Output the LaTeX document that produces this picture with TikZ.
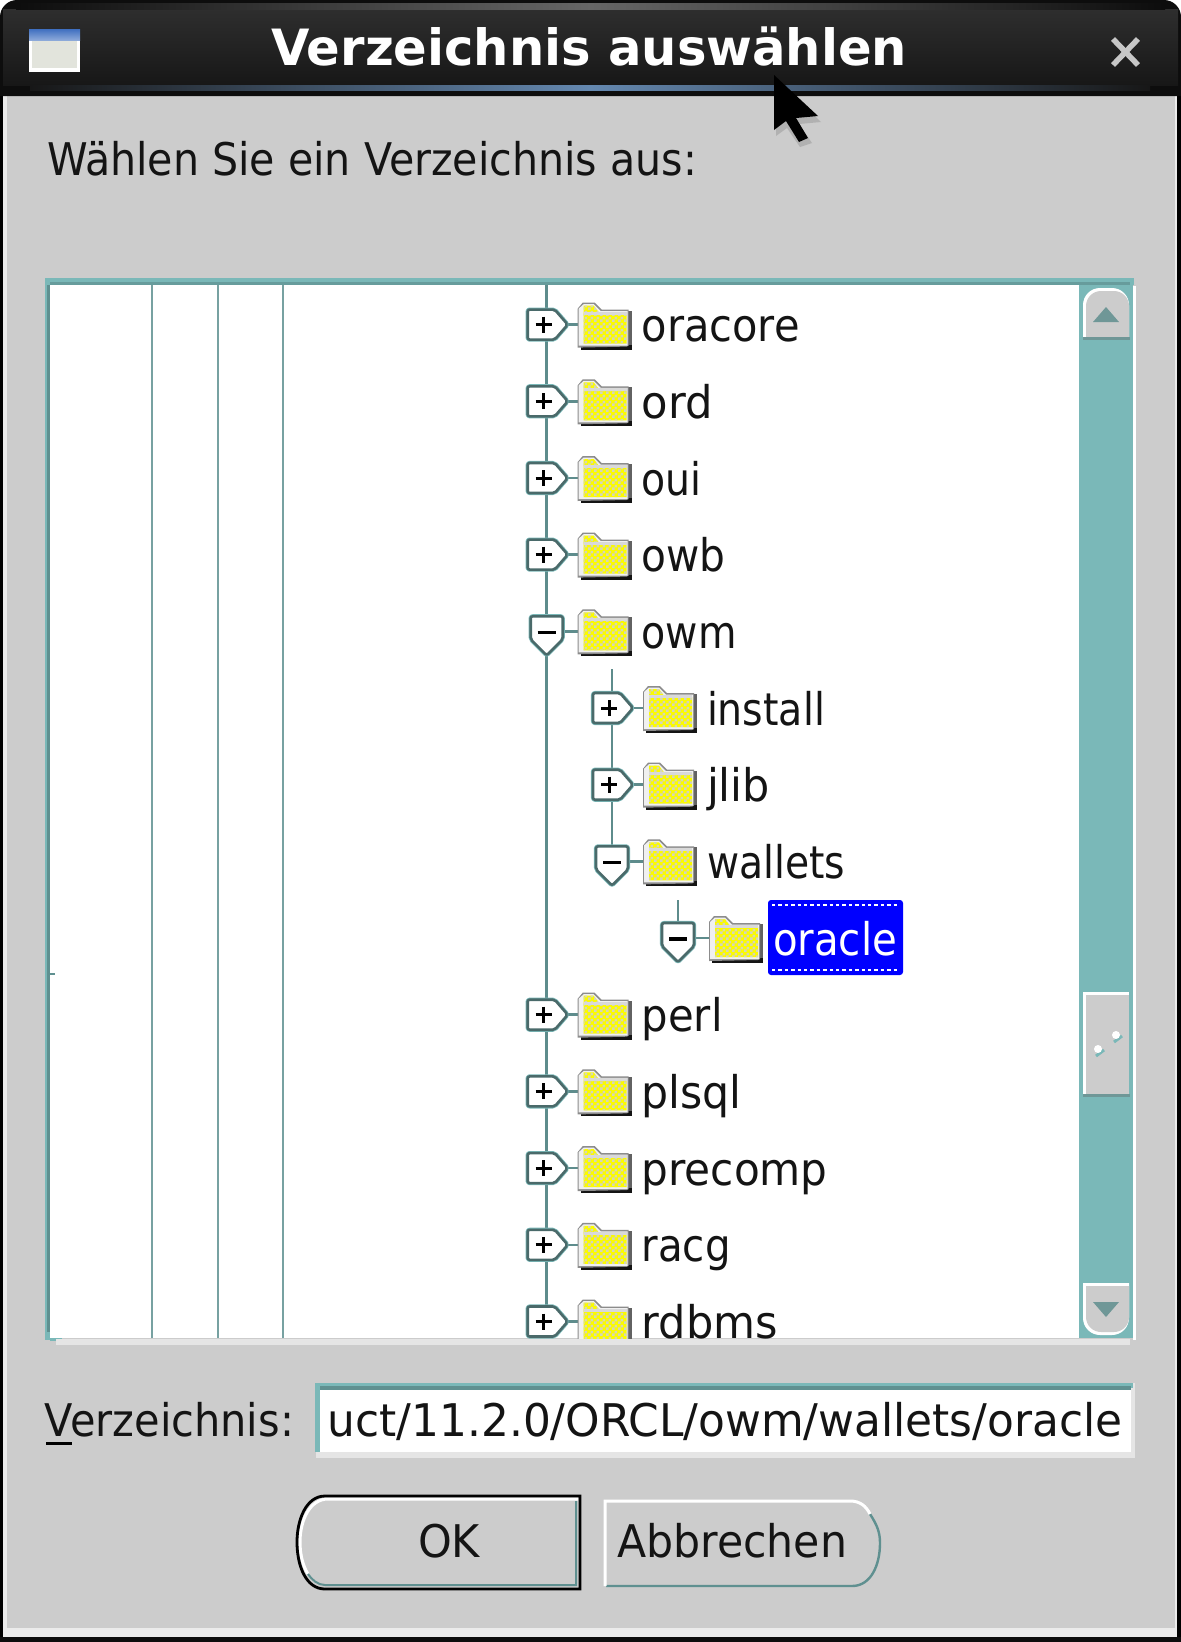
\documentclass[tikz,border=0pt]{standalone}
\usepackage{fontspec}
\usepackage{graphicx}
\setmainfont{DejaVu Sans}
\usetikzlibrary{patterns,calc}
\definecolor{winbg}{HTML}{CCCCCC}
\definecolor{teal1}{HTML}{7AB8B8}
\definecolor{teal2}{HTML}{5F9090}
\definecolor{treeln}{HTML}{5E8C8C}
\definecolor{handleln}{HTML}{4A6A6A}
\definecolor{arrowc}{HTML}{6F9797}
\definecolor{titletop}{HTML}{2E2E2E}
\definecolor{titlebot}{HTML}{171717}
\definecolor{glow}{HTML}{6488B0}
\definecolor{iconblue}{HTML}{3F6FC0}
\definecolor{iconbody}{HTML}{E2E4DC}
\definecolor{foldergray}{HTML}{8C8C8C}
\definecolor{folderyel}{HTML}{FBFB00}
\definecolor{folderdot}{HTML}{D6D6B8}
\pgfdeclarepatternformonly{dither}{\pgfpointorigin}{\pgfqpoint{6pt}{6pt}}{\pgfqpoint{6pt}{6pt}}{%
  \pgfpathrectangle{\pgfqpoint{0pt}{0pt}}{\pgfqpoint{2.9pt}{2.9pt}}%
  \pgfpathrectangle{\pgfqpoint{3pt}{3pt}}{\pgfqpoint{2.9pt}{2.9pt}}%
  \pgfusepath{fill}}
\newcommand\fit[2]{\resizebox{#1pt}{\height}{#2}}
\tikzset{
  uilabel/.style={anchor=base west,inner sep=0pt,outer sep=0pt,text=black!92,font=\fontsize{45}{50}\selectfont},
  treelabel/.style={uilabel},
  sellabel/.style={uilabel,text=white},
  titlelabel/.style={anchor=base west,inner sep=0pt,text=white,font=\fontsize{50}{56}\selectfont\bfseries},
  treeline/.style={draw=treeln,line width=2.6pt},
  gridline/.style={draw=teal2!85,line width=1.8pt},
  handlebox/.style={draw=handleln,fill=white,line width=2.6pt,line join=round,rounded corners=2pt},
  handlehalo/.style={draw=teal1,line width=4.2pt,line join=round,rounded corners=2pt},
  glyphmark/.style={draw=black,line width=3pt},
}
\newcommand\handleplus{%
  \draw[handlehalo] (-19,-15) -- (8,-15) -- (21,0) -- (8,15) -- (-19,15) -- cycle;
  \draw[handlebox] (-19,-15) -- (8,-15) -- (21,0) -- (8,15) -- (-19,15) -- cycle;
  \draw[glyphmark] (-11,0) -- (5,0) (-3,-8) -- (-3,8);}
\newcommand\handleminus{%
  \draw[handlehalo] (-16,-15) -- (16,-15) -- (16,8) -- (0,24) -- (-16,8) -- cycle;
  \draw[handlebox] (-16,-15) -- (16,-15) -- (16,8) -- (0,24) -- (-16,8) -- cycle;
  \draw[glyphmark,line width=3.2pt] (-9,1) -- (9,1);}
\newcommand\folder{%
  \fill[black!92] (3,2) rectangle (54,25);
  \fill[foldergray!70!black] (50,-14) rectangle (54,20);
  \fill[foldergray] (0,23) -- (0,-16) -- (5,-22) -- (17,-22) -- (24,-15) -- (51,-15) -- (51,21) -- (49,22) -- cycle;
  \fill[white!94!black] (1,21) -- (1,-16) -- (6,-20.5) -- (16,-20.5) -- (23,-13.5) -- (50,-13.5) -- (50,21) -- cycle;
  \fill[folderyel] (6,-19) -- (16,-19) -- (22,-11) -- (49,-11) -- (49,19) -- (6,19) -- cycle;
  \fill[pattern=dither,pattern color=folderdot] (6,-19) -- (16,-19) -- (22,-11) -- (49,-11) -- (49,19) -- (6,19) -- cycle;
  \fill[white!85!black] (6,-13) rectangle (49,-10);}
% [label style] id cx cy handle
\newcommand\trow[5][treelabel]{%
  \coordinate (h#2) at (#3,#4);
  \path (h#2) ++(31,0) coordinate (f#2);
  \draw[treeline] (h#2) -- (f#2);
  \begin{scope}[shift={(h#2)}]#5\end{scope}
  \begin{scope}[shift={(f#2)}]\folder\end{scope}
  \node[#1] (t#2) at ([shift={(95,17)}]h#2) {\fit{\rowwidth}{#2}};}
\begin{document}
\begin{tikzpicture}[x=1pt,y=-1pt]
\useasboundingbox (0,0) rectangle (1181,1642);
% window frame
\fill[white] (0,0) rectangle (1181,1642);
\fill[black] (0,90) rectangle (3,1642);
\fill[black] (1177,90) rectangle (1181,1642);
\fill[white!92!black] (3,90) rectangle (1177,1637);
\fill[black!95] (0,1637) rectangle (1181,1642);
\fill[winbg] (7,94) rectangle (1175,1628);
% title bar
\fill[black!95,rounded corners=17pt] (0,96) -- (0,0) -- (1181,0) -- (1181,96);
\shade[top color=titletop,bottom color=titlebot] (3,9) rectangle (1178,85);
\shade[left color=black!95,right color=black!95,middle color=black!60] (16,3) rectangle (1165,9);
\shade[left color=titlebot,right color=titlebot,middle color=glow] (30,85) rectangle (1150,90);
\node[titlelabel] (title) at (271,65) {\fit{636}{Verzeichnis auswählen}};
\fill[white] (29,30) rectangle (80,72);
\fill[iconbody] (32,40) rectangle (77,68);
\shade[top color=iconblue,bottom color=iconblue!60!white] (29,29) rectangle (80,40);
\draw[white!78!black,line width=5.5pt] (1113,39) -- (1138,65) (1138,39) -- (1113,65);
% prompt
\node[uilabel] (prompt) at (47,175) {\fit{650}{Wählen Sie ein Verzeichnis aus:}};
% tree pane
\fill[teal1] (46,278) rectangle (1134,285);
\fill[teal2!70!teal1] (46,282) rectangle (1130,285);
\fill[teal1] (45,278) rectangle (50,1340);
\fill[teal2] (47,285) rectangle (50,1332);
\fill[teal1] (50,1336) rectangle (62,1341);
\fill[white!90!black] (56,1339) rectangle (1130,1345);
\fill[white] (1133,286) rectangle (1136,1340);
\fill[white] (50,285) rectangle (1079,1338);
\fill[teal2] (50,973) rectangle (55,975);
\begin{scope}
\clip (50,285) rectangle (1079,1338);
\draw[gridline] (152,285) -- (152,1338);
\draw[gridline] (217.6,285) -- (217.6,1338);
\draw[gridline] (283,285) -- (283,1338);
\coordinate (mainTop) at (546.7,285);
\coordinate (mainEnd) at (546.7,1338);
\draw[treeline] (mainTop) -- (mainEnd);
\coordinate (subTop) at (612,669);
\coordinate (subEnd) at (612,846);
\draw[treeline] (subTop) -- (subEnd);
\coordinate (leafTop) at (678,900);
\coordinate (leafEnd) at (678,924);
\draw[treeline] (leafTop) -- (leafEnd);
\def\rowwidth{158}\trow{oracore}{546.7}{324.6}{\handleplus}
\def\rowwidth{71}\trow{ord}{546.7}{401.3}{\handleplus}
\def\rowwidth{60}\trow{oui}{546.7}{478}{\handleplus}
\def\rowwidth{84}\trow{owb}{546.7}{554.6}{\handleplus}
\def\rowwidth{95}\trow{owm}{546.7}{631.3}{\handleminus}
\def\rowwidth{118}\trow{install}{612}{708}{\handleplus}
\def\rowwidth{63}\trow{jlib}{612}{784.7}{\handleplus}
\def\rowwidth{138}\trow{wallets}{612}{861.4}{\handleminus}
\fill[blue,rounded corners=3pt] (768,900) rectangle (903,975);
\draw[white,line width=2.6pt,dash pattern=on 3.4pt off 3pt] (772,905) -- (899,905) (772,970) -- (899,970);
\def\rowwidth{124}\trow[sellabel]{oracle}{678}{938}{\handleminus}
\def\rowwidth{81}\trow{perl}{546.7}{1014.7}{\handleplus}
\def\rowwidth{100}\trow{plsql}{546.7}{1091.4}{\handleplus}
\def\rowwidth{186}\trow{precomp}{546.7}{1168.1}{\handleplus}
\def\rowwidth{89}\trow{racg}{546.7}{1244.8}{\handleplus}
\def\rowwidth{136}\trow{rdbms}{546.7}{1321.5}{\handleplus}
\end{scope}
% scrollbar
\fill[teal1] (1079,285) rectangle (1133,1338);
\fill[white,rounded corners=17pt] (1083,339) -- (1083,288) -- (1129,288) -- (1129,339);
\fill[winbg,rounded corners=15pt] (1086,338) -- (1086,291) -- (1129,291) -- (1129,338);
\fill[arrowc] (1083,337) rectangle (1130,340);
\fill[arrowc] (1106,307) -- (1119,322) -- (1093,322) -- cycle;
\fill[white] (1083,992) rectangle (1129,1096);
\fill[winbg] (1086,995) rectangle (1129,1094);
\fill[arrowc] (1083,1094) rectangle (1130,1097);
\draw[teal1,line width=3pt] (1096,1056) -- (1104,1050) (1114,1042) -- (1122,1036);
\fill[white] (1098,1049) circle (4);
\fill[white] (1116,1035) circle (4);
\fill[white,rounded corners=17pt] (1083,1283) -- (1083,1335) -- (1129,1335) -- (1129,1283);
\fill[winbg,rounded corners=15pt] (1086,1286) -- (1086,1332) -- (1129,1332) -- (1129,1286);
\fill[arrowc] (1106,1317) -- (1119,1302) -- (1093,1302) -- cycle;
% path field
\node[uilabel] (dirlabel) at (45,1436) {\fit{249}{Verzeichnis:}};
\draw[black,line width=3pt] (46,1443.5) -- (72,1443.5);
\fill[white!90!black] (316,1383) rectangle (1135,1458);
\fill[white] (319,1390) rectangle (1131,1452);
\fill[teal1] (315,1383) rectangle (1133,1388);
\fill[teal2] (319,1386) rectangle (1131,1390);
\fill[teal1] (315,1383) rectangle (320,1452);
\node[uilabel] (path) at (327.6,1436) {\fit{795}{uct/11.2.0/ORCL/owm/wallets/oracle}};
% OK button
\draw[white,line width=3pt] (578,1499) -- (328,1499) .. controls (310,1499) and (300,1520) .. (300,1542) .. controls (300,1555) and (303,1566) .. (308,1574);
\draw[teal2,line width=2pt] (308,1574) .. controls (312,1580) and (318,1585) .. (325,1585) -- (576,1585) -- (576,1501);
\draw[black,line width=2.8pt] (580,1496) -- (325,1496) .. controls (306,1496) and (297,1520) .. (297,1542) .. controls (297,1566) and (306,1589) .. (325,1589) -- (580,1589) -- cycle;
\node[uilabel] (ok) at (418,1557) {\fit{62}{OK}};
% Cancel button
\draw[teal2,line width=2.4pt] (870,1514) .. controls (877,1525) and (880,1532) .. (880,1543) .. controls (880,1565) and (871,1586) .. (852,1586) -- (606,1586);
\draw[white,line width=3pt] (605,1586) -- (605,1501) -- (850,1501) .. controls (860,1501) and (866,1506) .. (870,1514);
\node[uilabel] (cancel) at (617,1557) {\fit{230}{Abbrechen}};
% mouse cursor
\fill[black!35,opacity=.7] (776,78) -- (776,136) -- (787,128) -- (800,147) -- (812,143) -- (799,124) -- (821,122) -- cycle;
\fill[black] (774,75) -- (774,130) -- (786,121) -- (799,142) -- (808,138) -- (796,118) -- (818,116) -- cycle;
\end{tikzpicture}
\end{document}
